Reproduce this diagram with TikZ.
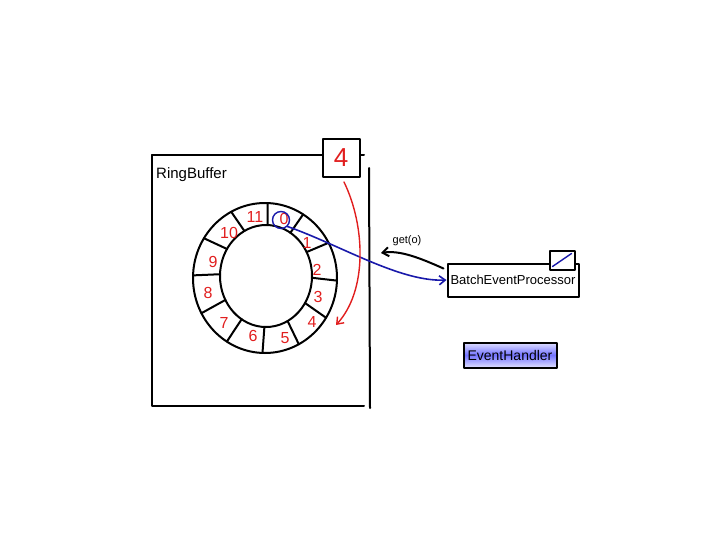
\documentclass[tikz,border=0pt]{standalone}
\usepackage{fontspec}
\setmainfont{Liberation Sans}
\usetikzlibrary{arrows.meta,calc}
\definecolor{penred}{RGB}{225,30,30}
\definecolor{penblue}{RGB}{25,25,170}
\begin{document}
\begin{tikzpicture}[x=1pt,y=-1pt,
  pen/.style={line width=2pt,line cap=round,line join=round},
  num/.style={text=penred,font=\fontsize{16}{16}\selectfont,inner sep=0pt},
  lbl/.style={font=\fontsize{15}{15}\selectfont,inner sep=0pt},
  barb/.style={-{Straight Barb[length=6pt,width=9pt]}}]
\useasboundingbox (0,0) rectangle (728,546);
% RingBuffer frame
\draw[pen] (152,155) -- (323,155);
\draw[pen] (360,155) -- (364,155);
\draw[pen] (152,155) -- (152,406) -- (364,406);
\draw[pen] (369,168) -- (370,408);
\node[lbl,anchor=base west] (rb) at (156,178) {RingBuffer};
% counter box
\node[draw,pen,minimum width=37pt,minimum height=38pt,inner sep=0pt,text=penred,font=\fontsize{26}{26}\selectfont] (four) at (341,158) {4};
% ring
\draw[pen] (265,278) ellipse [x radius=72, y radius=75];
\draw[pen] (266,276) ellipse [x radius=46, y radius=51];
\foreach \i in {0,...,11} {
  \pgfmathsetmacro\a{88-30*\i}
  \draw[pen] ({266+46*cos(\a)},{276-51*sin(\a)}) -- ({265+72*cos(\a)},{278-75*sin(\a)});
}
\node[num] (n0) at (284,219) {0};
\node[num] (n1) at (307,243) {1};
\node[num] (n2) at (317,270) {2};
\node[num] (n3) at (318,297) {3};
\node[num] (n4) at (312,322) {4};
\node[num] (n5) at (285,338) {5};
\node[num] (n6) at (253,336) {6};
\node[num] (n7) at (224,323) {7};
\node[num] (n8) at (208,293) {8};
\node[num] (n9) at (213,262) {9};
\node[num] (n10) at (229,233) {10};
\node[num] (n11) at (255,217) {11};
\node[draw=penblue,circle,line width=1.4pt,minimum size=17pt,inner sep=0pt] (c0) at (281,220) {};
% BatchEventProcessor
\node[draw,pen,minimum width=131pt,minimum height=33pt,inner sep=0pt,font=\fontsize{13}{13}\selectfont] (bep) at (513,280) {BatchEventProcessor};
\node[draw,pen,fill=white,minimum width=25pt,minimum height=19pt,inner sep=0pt] (flag) at (562,260) {};
\draw[penblue,line width=1.4pt,line cap=round] ($(flag.south west)+(4,-4)$) -- ($(flag.north east)+(-4,4)$);
% EventHandler
\node[draw,pen,minimum width=93pt,minimum height=25pt,inner sep=0pt,
  top color=blue!12,bottom color=blue!12,middle color=blue!55!white,
  font=\fontsize{14}{14}\selectfont] (eh) at (510,355) {EventHandler};
% connectors
\draw[penblue,line width=1.6pt,line cap=round,barb] (c0.south east) .. controls (340,245) and (400,282) .. (bep.west);
\coordinate (gt) at (381,253);
\draw[pen,barb] ($(bep.north west)+(-3,6)$) .. controls (420,258) and (400,250) .. (gt);
\node[font=\fontsize{11}{11}\selectfont,inner sep=0pt] (getl) at (407,241) {get(o)};
\coordinate (r4) at (336,325);
\draw[penred,line width=1.4pt,line cap=round,barb] ($(four.south)+(3,4)$) .. controls (365,225) and (368,290) .. (r4);
\end{tikzpicture}
\end{document}
